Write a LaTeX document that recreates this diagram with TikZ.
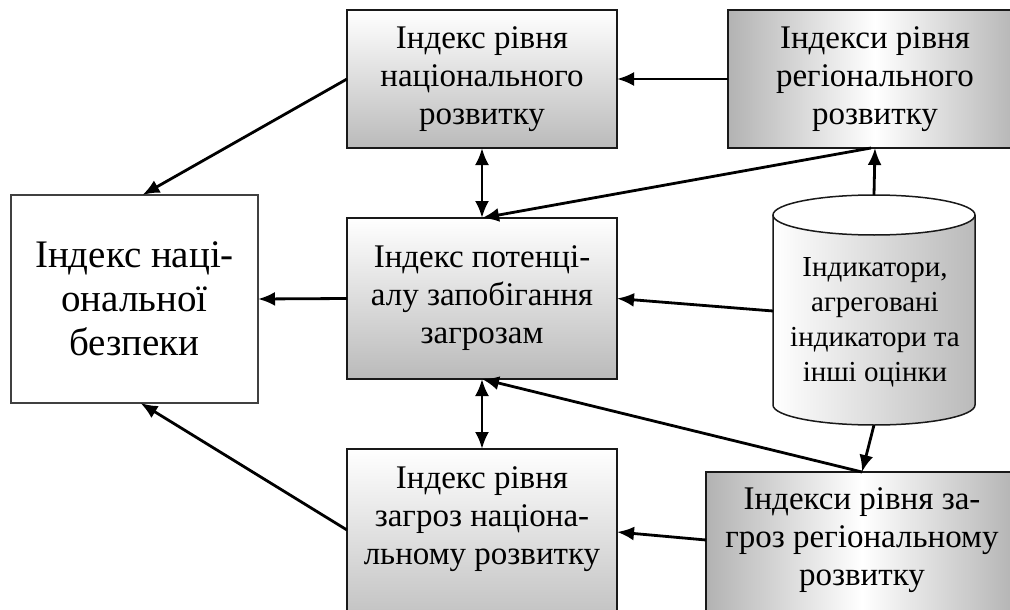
\documentclass[tikz,border=0pt]{standalone}
\usepackage{fontspec}
\setmainfont{Liberation Serif}
\usetikzlibrary{arrows.meta}

\tikzset{
  box/.style={draw=black!90, line width=2pt, rectangle, inner sep=0pt, outer sep=0pt,
    align=center, font=\fontsize{33}{38}\selectfont},
  vbox/.style={box, top color=white, bottom color=black!27},
  hbox/.style={box, left color=black!30, right color=black!30, middle color=white},
  txt/.style={align=center, inner sep=0pt, font=\fontsize{33}{38}\selectfont},
  link/.style={line width=2.8pt},
}

\begin{document}
\begin{tikzpicture}[x=1pt, y=-1pt, >={Latex[length=17pt,width=14pt]}]
\path[use as bounding box, clip] (0,0) rectangle (1010,610);

\node (nsb)[box, draw=black!75, line width=1.5pt, fill=white, minimum width=247, minimum height=208,
  font=\fontsize{39}{44}\selectfont] at (134.5,299) {Індекс наці-\\ональної\\безпеки};
\node (nrd)[vbox, minimum width=270, minimum height=138] at (482,79) {Індекс рівня\\національного\\розвитку};
\node (rrd)[hbox, minimum width=294, minimum height=138] at (875,79) {Індекси рівня\\регіонального\\розвитку};
\node (pzz)[vbox, minimum width=270, minimum height=161] at (482,298.5) {Індекс потенці-\\алу запобігання\\загрозам};
\node (rzn)[vbox, minimum width=270, minimum height=191] at (482,544.5) {};
\node (rzr)[hbox, minimum width=312, minimum height=168] at (862,556) {};
\node[txt] at (482,519) {Індекс рівня\\загроз націона-\\льному розвитку};
\node[txt] at (862,540) {Індекси рівня за-\\гроз регіональному\\розвитку};

% database cylinder
\fill[left color=white, right color=black!27] (773,215) -- (773,405)
  arc[start angle=180, end angle=0, x radius=101, y radius=20] -- (975,215) -- cycle;
\draw[line width=1.5pt, draw=black!90] (773,215) -- (773,405)
  arc[start angle=180, end angle=0, x radius=101, y radius=20] -- (975,215);
\draw[line width=1.5pt, draw=black!90, fill=white] (874,215) ellipse [x radius=101, y radius=20];
\coordinate (ind-top) at (874,195);
\coordinate (ind-bot) at (874,425);
\coordinate (ind-w) at (773,311);
\node (ind)[txt, font=\fontsize{29}{35}\selectfont] at (875,322) {Індикатори,\\агреговані\\індикатори та\\інші оцінки};

% connectors
\draw[link, ->] (nrd.west) -- ([xshift=8pt]nsb.north);
\draw[link, ->] (rrd.west) -- (nrd.east);
\draw[link, ->] ([xshift=-4pt]rrd.south) -- (pzz.north);
\draw[link, ->] (ind-top) -- (rrd.south);
\draw[link, ->] (pzz.west) -- (nsb.east);
\draw[link, ->] (ind-w) -- (pzz.east);
\draw[link, ->] (rzr.north) -- (pzz.south);
\draw[link, ->] (ind-bot) -- (rzr.north);
\draw[link, ->] ([yshift=-68pt]rzr.north west) -- ([yshift=-83pt]rzn.north east);
\draw[link, ->] ([yshift=-81pt]rzn.north west) -- ([xshift=6pt]nsb.south);
\foreach \a/\b in {nrd/pzz, pzz/rzn}
{
  \draw[link, <->] (\a.south) -- (\b.north);
}
\end{tikzpicture}
\end{document}
